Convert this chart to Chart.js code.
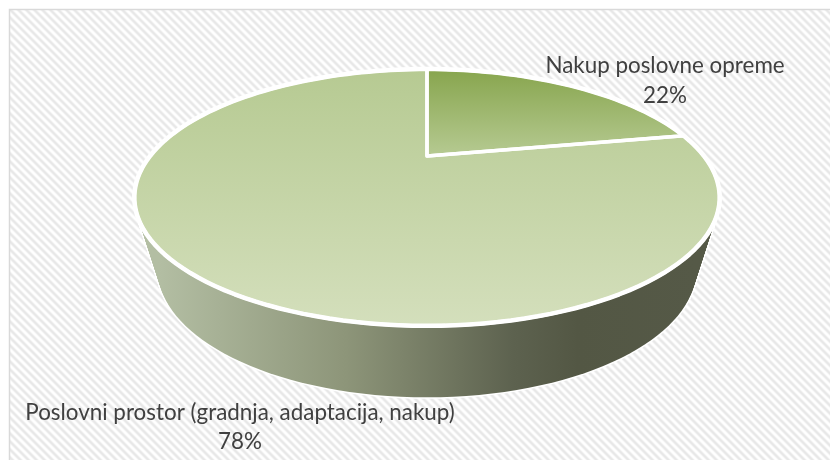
<!DOCTYPE html>
<html>
<head>
<meta charset="utf-8">
<style>html,body{margin:0;padding:0;background:#fff}canvas{display:block}</style>
<script src="https://cdn.jsdelivr.net/npm/chart.js@4"></script>
</head>
<body>
<canvas id="c" width="830" height="460"></canvas>
<script>
const categories = ['Nakup poslovne opreme', 'Poslovni prostor (gradnja, adaptacija, nakup)'];
const shares = [22, 78];
const percentLabels = ['22%', '78%'];
const labelAnchors = [{x: 665, y: 73, dy: 30}, {x: 240, y: 420, dy: 29}];
const sliceStops = [['#87a54d', '#b6ca92'], ['#b6ca92', '#d4dfbc']];
const sliceSpans = [[69, 156], [69, 326]];
const sideStops = [[0, '#b3bea3'], [0.35, '#8d9579'], [0.66, '#5d624f'], [0.78, '#535744'], [1, '#555947']];

const PERSP = -0.323, STRETCH = 277 / 115, DEPTH = 71.5, NARROW = 0.92;

function project(arc, u, v, t) {
  const w = 1 + PERSP * v;
  const sx = 1 - (1 - NARROW) * t;
  return [arc.x + arc.outerRadius * STRETCH * sx * u / w,
          arc.y + DEPTH * t + arc.outerRadius * v / w];
}
function rimPath(ctx, arc, t) {
  ctx.beginPath();
  for (let i = 0; i <= 180; i++) {
    const a = i / 180 * Math.PI * 2;
    const p = project(arc, Math.cos(a), Math.sin(a), t);
    i ? ctx.lineTo(p[0], p[1]) : ctx.moveTo(p[0], p[1]);
  }
  ctx.closePath();
}
function slicePath(ctx, arc) {
  ctx.beginPath();
  const c = project(arc, 0, 0, 0);
  ctx.moveTo(c[0], c[1]);
  const n = 120;
  for (let i = 0; i <= n; i++) {
    const a = arc.startAngle + (arc.endAngle - arc.startAngle) * i / n;
    const p = project(arc, Math.cos(a), Math.sin(a), 0);
    ctx.lineTo(p[0], p[1]);
  }
  ctx.closePath();
}
function stripes(ctx) {
  const tile = document.createElement('canvas');
  tile.width = tile.height = 8;
  const g = tile.getContext('2d');
  const tones = ['#e8e8e8', '#e8e8e8', '#efefef', '#fafafa', '#ffffff', '#ffffff', '#fafafa', '#efefef'];
  for (let y = 0; y < 8; y++) for (let x = 0; x < 8; x++) {
    g.fillStyle = tones[(x - y + 8) % 8];
    g.fillRect(x, y, 1, 1);
  }
  return ctx.createPattern(tile, 'repeat');
}

const piePerspective = {
  id: 'piePerspective',
  beforeDraw(chart) {
    const ctx = chart.ctx;
    ctx.save();
    ctx.fillStyle = '#ffffff';
    ctx.fillRect(0, 0, chart.width, chart.height);
    ctx.fillStyle = stripes(ctx);
    ctx.fillRect(9, 9, chart.width, chart.height);
    ctx.strokeStyle = '#d9d9d9';
    ctx.lineWidth = 1.5;
    ctx.beginPath();
    ctx.moveTo(9.5, chart.height);
    ctx.lineTo(9.5, 9.5);
    ctx.lineTo(chart.width, 9.5);
    ctx.stroke();
    ctx.restore();
  },
  beforeDatasetDraw(chart) {
    const ctx = chart.ctx;
    const arcs = chart.getDatasetMeta(0).data;
    const base = arcs[0];
    ctx.save();
    ctx.lineJoin = 'round';
    // side wall
    const left = project(base, -1, 0, 0)[0], right = project(base, 1, 0, 0)[0];
    const side = ctx.createLinearGradient(left + 8, 0, right - 8, 0);
    sideStops.forEach(s => side.addColorStop(s[0], s[1]));
    ctx.strokeStyle = '#ffffff';
    ctx.lineWidth = 3;
    for (let k = 0; k <= 40; k++) { rimPath(ctx, base, k / 40); ctx.stroke(); }
    ctx.fillStyle = side;
    for (let k = 0; k <= 40; k++) { rimPath(ctx, base, k / 40); ctx.fill(); }
    // top slices
    arcs.forEach((arc, i) => {
      const grad = ctx.createLinearGradient(0, sliceSpans[i][0], 0, sliceSpans[i][1]);
      grad.addColorStop(0, sliceStops[i][0]);
      grad.addColorStop(1, sliceStops[i][1]);
      slicePath(ctx, arc);
      ctx.fillStyle = grad;
      ctx.fill();
    });
    ctx.strokeStyle = '#ffffff';
    ctx.lineWidth = 4.5;
    rimPath(ctx, base, 0);
    ctx.stroke();
    ctx.lineWidth = 3.5;
    arcs.forEach(arc => { slicePath(ctx, arc); ctx.stroke(); });
    ctx.restore();
    return false;
  },
  afterDatasetsDraw(chart) {
    const ctx = chart.ctx;
    ctx.save();
    ctx.fillStyle = '#404040';
    ctx.font = '22.4px Lato';
    ctx.textAlign = 'center';
    ctx.textBaseline = 'alphabetic';
    categories.forEach((name, i) => {
      const a = labelAnchors[i];
      ctx.fillText(name, a.x, a.y);
      ctx.fillText(percentLabels[i], a.x, a.y + a.dy);
    });
    ctx.restore();
  }
};

new Chart(document.getElementById('c'), {
  type: 'pie',
  data: {
    labels: categories,
    datasets: [{
      data: shares,
      backgroundColor: sliceStops.map(s => s[1]),
      borderWidth: 0,
      hoverBorderWidth: 0,
      hoverOffset: 0
    }]
  },
  options: {
    responsive: false,
    animation: false,
    events: [],
    layout: {padding: {left: 150, right: 126, top: 41, bottom: 189}},
    plugins: {legend: {display: false}, tooltip: {enabled: false}, title: {display: false}}
  },
  plugins: [piePerspective]
});
</script>
</body>
</html>
